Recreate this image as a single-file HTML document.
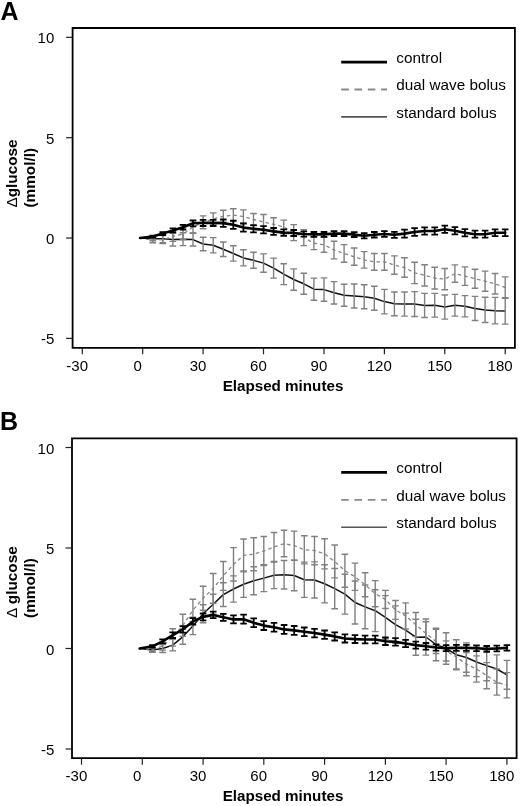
<!DOCTYPE html>
<html><head><meta charset="utf-8"><style>
html,body{margin:0;padding:0;background:#fff;}
svg{display:block;font-family:"Liberation Sans",sans-serif;will-change:transform;}
</style></head><body>
<svg width="520" height="806" viewBox="0 0 520 806">
<rect width="520" height="806" fill="#fff"/>
<text x="0.6" y="20.2" font-weight="bold" font-size="25">A</text>
<path d="M72.6,28.0H514.9V347.8H72.6Z" fill="none" stroke="#000" stroke-width="1.8"/>
<path d="M66.1,37.3H72.6" stroke="#222" stroke-width="1.2"/>
<text x="54.3" y="43.3" text-anchor="end" font-size="15">10</text>
<path d="M66.1,137.7H72.6" stroke="#222" stroke-width="1.2"/>
<text x="54.3" y="143.7" text-anchor="end" font-size="15">5</text>
<path d="M66.1,238.0H72.6" stroke="#222" stroke-width="1.2"/>
<text x="54.3" y="244.0" text-anchor="end" font-size="15">0</text>
<path d="M66.1,338.4H72.6" stroke="#222" stroke-width="1.2"/>
<text x="54.3" y="344.4" text-anchor="end" font-size="15">-5</text>
<path d="M82.3,347.8V354.3" stroke="#222" stroke-width="1.2"/>
<text x="77.2" y="370.7" text-anchor="middle" font-size="15">-30</text>
<path d="M142.7,347.8V354.3" stroke="#222" stroke-width="1.2"/>
<text x="137.6" y="370.7" text-anchor="middle" font-size="15">0</text>
<path d="M203.1,347.8V354.3" stroke="#222" stroke-width="1.2"/>
<text x="198.0" y="370.7" text-anchor="middle" font-size="15">30</text>
<path d="M263.5,347.8V354.3" stroke="#222" stroke-width="1.2"/>
<text x="258.4" y="370.7" text-anchor="middle" font-size="15">60</text>
<path d="M324.0,347.8V354.3" stroke="#222" stroke-width="1.2"/>
<text x="318.9" y="370.7" text-anchor="middle" font-size="15">90</text>
<path d="M384.4,347.8V354.3" stroke="#222" stroke-width="1.2"/>
<text x="379.3" y="370.7" text-anchor="middle" font-size="15">120</text>
<path d="M444.8,347.8V354.3" stroke="#222" stroke-width="1.2"/>
<text x="439.7" y="370.7" text-anchor="middle" font-size="15">150</text>
<path d="M505.2,347.8V354.3" stroke="#222" stroke-width="1.2"/>
<text x="500.1" y="370.7" text-anchor="middle" font-size="15">180</text>
<text x="283" y="390.9" text-anchor="middle" font-weight="bold" font-size="15.2">Elapsed minutes</text>
<g transform="translate(17.0,207.6) rotate(-90) scale(1,0.93)"><text x="0" y="0" font-size="15.35"><tspan>&#916;</tspan><tspan font-weight="bold">glucose</tspan></text></g>
<g transform="translate(34.6,207.6) rotate(-90) scale(1,0.93)"><text x="0" y="0" font-size="15.35" font-weight="bold">(mmol/l)</text></g>
<path d="M341.2,62.1H387" stroke="#000" stroke-width="2.8"/>
<path d="M341.2,89.5H387" stroke="#8a8a8a" stroke-width="1.8" stroke-dasharray="7.6,5.7"/>
<path d="M341.2,116.9H387" stroke="#555" stroke-width="1.6"/>
<text x="396.3" y="62.8" font-size="15.3">control</text>
<text x="396.3" y="90.2" font-size="15.3">dual wave bolus</text>
<text x="396.3" y="117.6" font-size="15.3">standard bolus</text>
<polyline points="140.1,238.0 152.8,238.8 162.8,238.8 172.9,239.6 183.0,239.2 193.0,239.6 203.1,244.0 213.2,245.2 223.3,249.2 233.3,253.5 243.4,257.9 253.5,260.3 263.5,263.1 273.6,268.1 283.7,274.1 293.7,279.5 303.8,283.8 313.9,289.2 324.0,289.6 334.0,292.8 344.1,295.2 354.2,296.0 364.2,296.8 374.3,298.2 384.4,301.6 394.4,303.8 404.5,304.0 414.6,304.0 424.6,305.4 434.7,305.2 444.8,307.0 454.9,305.2 464.9,306.2 475.0,308.4 485.1,309.9 495.1,310.7 505.2,310.9" fill="none" stroke="#111" stroke-width="1.5" stroke-linejoin="round" stroke-linecap="round" />
<path d="M152.8,236.8V240.8M149.5,236.8h6.6M149.5,240.8h6.6M162.8,234.8V242.8M159.5,234.8h6.6M159.5,242.8h6.6M172.9,233.2V246.0M169.6,233.2h6.6M169.6,246.0h6.6M183.0,232.8V245.6M179.7,232.8h6.6M179.7,245.6h6.6M193.0,233.2V246.0M189.7,233.2h6.6M189.7,246.0h6.6M203.1,237.2V250.8M199.8,237.2h6.6M199.8,250.8h6.6M213.2,237.6V252.9M209.9,237.6h6.6M209.9,252.9h6.6M223.3,242.0V256.5M220.0,242.0h6.6M220.0,256.5h6.6M233.3,245.8V261.1M230.0,245.8h6.6M230.0,261.1h6.6M243.4,249.8V265.9M240.1,249.8h6.6M240.1,265.9h6.6M253.5,252.2V268.3M250.2,252.2h6.6M250.2,268.3h6.6M263.5,253.9V272.3M260.2,253.9h6.6M260.2,272.3h6.6M273.6,258.1V278.1M270.3,258.1h6.6M270.3,278.1h6.6M283.7,263.7V284.6M280.4,263.7h6.6M280.4,284.6h6.6M293.7,268.9V290.2M290.4,268.9h6.6M290.4,290.2h6.6M303.8,273.3V294.2M300.5,273.3h6.6M300.5,294.2h6.6M313.9,278.1V300.2M310.6,278.1h6.6M310.6,300.2h6.6M324.0,277.9V301.2M320.7,277.9h6.6M320.7,301.2h6.6M334.0,281.6V304.0M330.7,281.6h6.6M330.7,304.0h6.6M344.1,284.2V306.2M340.8,284.2h6.6M340.8,306.2h6.6M354.2,284.0V308.0M350.9,284.0h6.6M350.9,308.0h6.6M364.2,284.8V308.8M360.9,284.8h6.6M360.9,308.8h6.6M374.3,286.2V310.3M371.0,286.2h6.6M371.0,310.3h6.6M384.4,289.4V313.9M381.1,289.4h6.6M381.1,313.9h6.6M394.4,292.0V315.7M391.1,292.0h6.6M391.1,315.7h6.6M404.5,292.0V316.1M401.2,292.0h6.6M401.2,316.1h6.6M414.6,291.6V316.5M411.3,291.6h6.6M411.3,316.5h6.6M424.6,293.4V317.5M421.3,293.4h6.6M421.3,317.5h6.6M434.7,293.4V317.1M431.4,293.4h6.6M431.4,317.1h6.6M444.8,295.0V319.1M441.5,295.0h6.6M441.5,319.1h6.6M454.9,294.4V316.1M451.6,294.4h6.6M451.6,316.1h6.6M464.9,295.6V316.9M461.6,295.6h6.6M461.6,316.9h6.6M475.0,296.4V320.5M471.7,296.4h6.6M471.7,320.5h6.6M485.1,297.2V322.5M481.8,297.2h6.6M481.8,322.5h6.6M495.1,297.4V323.9M491.8,297.4h6.6M491.8,323.9h6.6M505.2,297.6V324.1M501.9,297.6h6.6M501.9,324.1h6.6" fill="none" stroke="#808080" stroke-width="1.4"/>
<polyline points="140.1,238.0 152.8,240.4 162.8,239.6 172.9,236.4 183.0,234.0 193.0,227.0 203.1,222.3 213.2,218.9 223.3,216.3 233.3,215.1 243.4,216.5 253.5,219.5 263.5,221.9 273.6,224.4 283.7,227.0 293.7,232.6 303.8,237.6 313.9,243.2 324.0,244.8 334.0,250.0 344.1,253.5 354.2,256.7 364.2,259.9 374.3,261.9 384.4,261.9 394.4,265.1 404.5,267.5 414.6,272.9 424.6,275.3 434.7,278.1 444.8,279.1 454.9,273.5 464.9,276.1 475.0,278.7 485.1,281.2 495.1,283.8 505.2,287.6" fill="none" stroke="#858585" stroke-width="1.3" stroke-linejoin="round" stroke-linecap="round" stroke-dasharray="2.5,4.1"/>
<path d="M152.8,238.0V242.8M149.5,238.0h6.6M149.5,242.8h6.6M162.8,235.6V243.6M159.5,235.6h6.6M159.5,243.6h6.6M172.9,231.4V241.4M169.6,231.4h6.6M169.6,241.4h6.6M183.0,228.4V239.6M179.7,228.4h6.6M179.7,239.6h6.6M193.0,220.9V233.0M189.7,220.9h6.6M189.7,233.0h6.6M203.1,215.9V228.8M199.8,215.9h6.6M199.8,228.8h6.6M213.2,212.9V225.0M209.9,212.9h6.6M209.9,225.0h6.6M223.3,210.3V222.3M220.0,210.3h6.6M220.0,222.3h6.6M233.3,208.7V221.5M230.0,208.7h6.6M230.0,221.5h6.6M243.4,209.9V223.1M240.1,209.9h6.6M240.1,223.1h6.6M253.5,213.5V225.6M250.2,213.5h6.6M250.2,225.6h6.6M263.5,214.5V229.4M260.2,214.5h6.6M260.2,229.4h6.6M273.6,217.7V231.0M270.3,217.7h6.6M270.3,231.0h6.6M283.7,220.1V233.8M280.4,220.1h6.6M280.4,233.8h6.6M293.7,224.6V240.6M290.4,224.6h6.6M290.4,240.6h6.6M303.8,229.6V245.6M300.5,229.6h6.6M300.5,245.6h6.6M313.9,236.8V249.6M310.6,236.8h6.6M310.6,249.6h6.6M324.0,237.4V252.2M320.7,237.4h6.6M320.7,252.2h6.6M334.0,241.2V258.9M330.7,241.2h6.6M330.7,258.9h6.6M344.1,244.6V262.3M340.8,244.6h6.6M340.8,262.3h6.6M354.2,248.0V265.3M350.9,248.0h6.6M350.9,265.3h6.6M364.2,251.6V268.1M360.9,251.6h6.6M360.9,268.1h6.6M374.3,253.5V270.3M371.0,253.5h6.6M371.0,270.3h6.6M384.4,253.5V270.3M381.1,253.5h6.6M381.1,270.3h6.6M394.4,255.9V274.3M391.1,255.9h6.6M391.1,274.3h6.6M404.5,257.7V277.3M401.2,257.7h6.6M401.2,277.3h6.6M414.6,262.3V283.6M411.3,262.3h6.6M411.3,283.6h6.6M424.6,264.7V286.0M421.3,264.7h6.6M421.3,286.0h6.6M434.7,267.3V289.0M431.4,267.3h6.6M431.4,289.0h6.6M444.8,268.5V289.8M441.5,268.5h6.6M441.5,289.8h6.6M454.9,264.9V282.2M451.6,264.9h6.6M451.6,282.2h6.6M464.9,266.9V285.4M461.6,266.9h6.6M461.6,285.4h6.6M475.0,269.3V288.2M471.7,269.3h6.6M471.7,288.2h6.6M485.1,271.1V291.2M481.8,271.1h6.6M481.8,291.2h6.6M495.1,273.5V294.0M491.8,273.5h6.6M491.8,294.0h6.6M505.2,276.9V298.2M501.9,276.9h6.6M501.9,298.2h6.6" fill="none" stroke="#808080" stroke-width="1.4"/>
<polyline points="140.1,238.0 152.8,236.6 162.8,233.6 172.9,230.4 183.0,227.2 193.0,223.3 203.1,222.9 213.2,222.9 223.3,223.1 233.3,224.8 243.4,227.6 253.5,228.8 263.5,229.8 273.6,231.4 283.7,232.6 293.7,233.0 303.8,234.0 313.9,234.4 324.0,234.4 334.0,233.6 344.1,233.6 354.2,234.6 364.2,235.8 374.3,234.8 384.4,234.0 394.4,234.8 404.5,233.6 414.6,232.0 424.6,231.0 434.7,231.0 444.8,229.2 454.9,230.8 464.9,232.8 475.0,234.2 485.1,234.2 495.1,232.8 505.2,232.8" fill="none" stroke="#000" stroke-width="2.6" stroke-linejoin="round" stroke-linecap="round" />
<path d="M152.8,235.6V237.6M149.5,235.6h6.6M149.5,237.6h6.6M162.8,232.2V235.0M159.5,232.2h6.6M159.5,235.0h6.6M172.9,228.4V232.4M169.6,228.4h6.6M169.6,232.4h6.6M183.0,224.8V229.6M179.7,224.8h6.6M179.7,229.6h6.6M193.0,220.3V226.4M189.7,220.3h6.6M189.7,226.4h6.6M203.1,219.9V226.0M199.8,219.9h6.6M199.8,226.0h6.6M213.2,219.9V226.0M209.9,219.9h6.6M209.9,226.0h6.6M223.3,219.5V226.8M220.0,219.5h6.6M220.0,226.8h6.6M233.3,220.7V228.8M230.0,220.7h6.6M230.0,228.8h6.6M243.4,223.5V231.6M240.1,223.5h6.6M240.1,231.6h6.6M253.5,225.2V232.4M250.2,225.2h6.6M250.2,232.4h6.6M263.5,226.2V233.4M260.2,226.2h6.6M260.2,233.4h6.6M273.6,228.0V234.8M270.3,228.0h6.6M270.3,234.8h6.6M283.7,229.4V235.8M280.4,229.4h6.6M280.4,235.8h6.6M293.7,230.0V236.0M290.4,230.0h6.6M290.4,236.0h6.6M303.8,231.4V236.6M300.5,231.4h6.6M300.5,236.6h6.6M313.9,232.0V236.8M310.6,232.0h6.6M310.6,236.8h6.6M324.0,232.0V236.8M320.7,232.0h6.6M320.7,236.8h6.6M334.0,231.2V236.0M330.7,231.2h6.6M330.7,236.0h6.6M344.1,231.2V236.0M340.8,231.2h6.6M340.8,236.0h6.6M354.2,232.2V237.0M350.9,232.2h6.6M350.9,237.0h6.6M364.2,233.2V238.4M360.9,233.2h6.6M360.9,238.4h6.6M374.3,232.0V237.5M371.0,232.0h6.6M371.0,237.5h6.6M384.4,231.1V236.9M381.1,231.1h6.6M381.1,236.9h6.6M394.4,231.8V237.8M391.1,231.8h6.6M391.1,237.8h6.6M404.5,229.6V237.6M401.2,229.6h6.6M401.2,237.6h6.6M414.6,228.2V235.8M411.3,228.2h6.6M411.3,235.8h6.6M424.6,227.4V234.6M421.3,227.4h6.6M421.3,234.6h6.6M434.7,227.4V234.6M431.4,227.4h6.6M431.4,234.6h6.6M444.8,225.6V232.8M441.5,225.6h6.6M441.5,232.8h6.6M454.9,227.2V234.4M451.6,227.2h6.6M451.6,234.4h6.6M464.9,229.2V236.4M461.6,229.2h6.6M461.6,236.4h6.6M475.0,230.7V237.7M471.7,230.7h6.6M471.7,237.7h6.6M485.1,230.7V237.7M481.8,230.7h6.6M481.8,237.7h6.6M495.1,229.3V236.2M491.8,229.3h6.6M491.8,236.2h6.6M505.2,229.4V236.2M501.9,229.4h6.6M501.9,236.2h6.6" fill="none" stroke="#000" stroke-width="1.8"/>
<text x="0.0" y="430.4" font-weight="bold" font-size="25">B</text>
<path d="M72.0,438.3H516.6V758.2H72.0Z" fill="none" stroke="#000" stroke-width="1.8"/>
<path d="M65.5,447.5H72.0" stroke="#222" stroke-width="1.2"/>
<text x="54.3" y="453.5" text-anchor="end" font-size="15">10</text>
<path d="M65.5,548.0H72.0" stroke="#222" stroke-width="1.2"/>
<text x="54.3" y="554.0" text-anchor="end" font-size="15">5</text>
<path d="M65.5,648.5H72.0" stroke="#222" stroke-width="1.2"/>
<text x="54.3" y="654.5" text-anchor="end" font-size="15">0</text>
<path d="M65.5,749.0H72.0" stroke="#222" stroke-width="1.2"/>
<text x="54.3" y="755.0" text-anchor="end" font-size="15">-5</text>
<path d="M81.5,758.2V764.7" stroke="#222" stroke-width="1.2"/>
<text x="76.4" y="781.1" text-anchor="middle" font-size="15">-30</text>
<path d="M142.3,758.2V764.7" stroke="#222" stroke-width="1.2"/>
<text x="137.2" y="781.1" text-anchor="middle" font-size="15">0</text>
<path d="M203.1,758.2V764.7" stroke="#222" stroke-width="1.2"/>
<text x="198.0" y="781.1" text-anchor="middle" font-size="15">30</text>
<path d="M263.8,758.2V764.7" stroke="#222" stroke-width="1.2"/>
<text x="258.7" y="781.1" text-anchor="middle" font-size="15">60</text>
<path d="M324.6,758.2V764.7" stroke="#222" stroke-width="1.2"/>
<text x="319.5" y="781.1" text-anchor="middle" font-size="15">90</text>
<path d="M385.4,758.2V764.7" stroke="#222" stroke-width="1.2"/>
<text x="380.3" y="781.1" text-anchor="middle" font-size="15">120</text>
<path d="M446.1,758.2V764.7" stroke="#222" stroke-width="1.2"/>
<text x="441.0" y="781.1" text-anchor="middle" font-size="15">150</text>
<path d="M506.9,758.2V764.7" stroke="#222" stroke-width="1.2"/>
<text x="501.8" y="781.1" text-anchor="middle" font-size="15">180</text>
<text x="283" y="801.3" text-anchor="middle" font-weight="bold" font-size="15.2">Elapsed minutes</text>
<g transform="translate(17.0,617.9) rotate(-90) scale(1,0.93)"><text x="0" y="0" font-size="15.35"><tspan>&#916; </tspan><tspan font-weight="bold">glucose</tspan></text></g>
<g transform="translate(34.6,617.9) rotate(-90) scale(1,0.93)"><text x="0" y="0" font-size="15.35" font-weight="bold">(mmol/l)</text></g>
<path d="M341.2,472.4H387" stroke="#000" stroke-width="2.8"/>
<path d="M341.2,499.8H387" stroke="#8a8a8a" stroke-width="1.8" stroke-dasharray="7.6,5.7"/>
<path d="M341.2,527.2H387" stroke="#555" stroke-width="1.6"/>
<text x="396.3" y="473.1" font-size="15.3">control</text>
<text x="396.3" y="500.5" font-size="15.3">dual wave bolus</text>
<text x="396.3" y="527.9" font-size="15.3">standard bolus</text>
<polyline points="139.7,648.5 152.4,650.1 162.6,648.5 172.7,645.1 182.8,636.8 192.9,626.0 203.1,613.7 213.2,604.3 223.3,594.6 233.5,589.0 243.6,584.2 253.7,580.8 263.8,578.1 274.0,575.3 284.1,574.7 294.2,575.5 304.3,579.8 314.5,580.0 324.6,583.8 334.7,588.6 344.9,594.2 355.0,602.5 365.1,606.9 375.2,610.7 385.4,617.3 395.5,624.6 405.6,630.2 415.8,637.2 425.9,637.0 436.0,644.5 446.1,648.5 456.3,654.7 466.4,657.5 476.5,662.0 486.7,665.6 496.8,669.0 506.9,674.8" fill="none" stroke="#111" stroke-width="1.5" stroke-linejoin="round" stroke-linecap="round" />
<path d="M152.4,647.9V652.3M149.1,647.9h6.6M149.1,652.3h6.6M162.6,644.5V652.5M159.3,644.5h6.6M159.3,652.5h6.6M172.7,639.3V650.9M169.4,639.3h6.6M169.4,650.9h6.6M182.8,629.4V644.3M179.5,629.4h6.6M179.5,644.3h6.6M192.9,617.3V634.6M189.6,617.3h6.6M189.6,634.6h6.6M203.1,604.7V622.8M199.8,604.7h6.6M199.8,622.8h6.6M213.2,594.2V614.3M209.9,594.2h6.6M209.9,614.3h6.6M223.3,582.8V606.5M220.0,582.8h6.6M220.0,606.5h6.6M233.5,575.9V602.1M230.2,575.9h6.6M230.2,602.1h6.6M243.6,570.9V597.4M240.3,570.9h6.6M240.3,597.4h6.6M253.7,566.7V594.8M250.4,566.7h6.6M250.4,594.8h6.6M263.8,564.7V591.6M260.5,564.7h6.6M260.5,591.6h6.6M274.0,562.1V588.6M270.7,562.1h6.6M270.7,588.6h6.6M284.1,560.5V589.0M280.8,560.5h6.6M280.8,589.0h6.6M294.2,560.3V590.8M290.9,560.3h6.6M290.9,590.8h6.6M304.3,562.1V597.4M301.0,562.1h6.6M301.0,597.4h6.6M314.5,561.9V598.0M311.2,561.9h6.6M311.2,598.0h6.6M324.6,564.7V602.9M321.3,564.7h6.6M321.3,602.9h6.6M334.7,568.5V608.7M331.4,568.5h6.6M331.4,608.7h6.6M344.9,574.3V614.1M341.6,574.3h6.6M341.6,614.1h6.6M355.0,581.0V624.0M351.7,581.0h6.6M351.7,624.0h6.6M365.1,585.0V628.8M361.8,585.0h6.6M361.8,628.8h6.6M375.2,589.8V631.6M371.9,589.8h6.6M371.9,631.6h6.6M385.4,595.6V639.1M382.1,595.6h6.6M382.1,639.1h6.6M395.5,605.9V643.3M392.2,605.9h6.6M392.2,643.3h6.6M405.6,613.1V647.3M402.3,613.1h6.6M402.3,647.3h6.6M415.8,619.2V655.3M412.5,619.2h6.6M412.5,655.3h6.6M425.9,619.0V655.1M422.6,619.0h6.6M422.6,655.1h6.6M436.0,628.2V660.8M432.7,628.2h6.6M432.7,660.8h6.6M446.1,632.8V664.2M442.8,632.8h6.6M442.8,664.2h6.6M456.3,639.7V669.8M453.0,639.7h6.6M453.0,669.8h6.6M466.4,642.9V672.2M463.1,642.9h6.6M463.1,672.2h6.6M476.5,647.3V676.6M473.2,647.3h6.6M473.2,676.6h6.6M486.7,650.5V680.7M483.4,650.5h6.6M483.4,680.7h6.6M496.8,654.9V683.1M493.5,654.9h6.6M493.5,683.1h6.6M506.9,660.4V689.3M503.6,660.4h6.6M503.6,689.3h6.6" fill="none" stroke="#808080" stroke-width="1.4"/>
<polyline points="139.7,648.5 152.4,649.5 162.6,646.1 172.7,637.4 182.8,625.4 192.9,610.3 203.1,598.2 213.2,588.4 223.3,575.9 233.5,564.3 243.6,555.4 253.7,554.2 263.8,551.0 274.0,547.0 284.1,543.6 294.2,545.6 304.3,549.8 314.5,550.6 324.6,553.8 334.7,561.5 344.9,570.7 355.0,576.7 365.1,584.8 375.2,593.6 385.4,599.5 395.5,609.9 405.6,615.9 415.8,624.6 425.9,633.4 436.0,641.5 446.1,650.9 456.3,656.9 466.4,664.2 476.5,669.0 486.7,675.6 496.8,682.1 506.9,685.3" fill="none" stroke="#858585" stroke-width="1.3" stroke-linejoin="round" stroke-linecap="round" stroke-dasharray="2.5,4.1"/>
<path d="M152.4,647.5V651.5M149.1,647.5h6.6M149.1,651.5h6.6M162.6,642.1V650.1M159.3,642.1h6.6M159.3,650.1h6.6M172.7,628.8V646.1M169.4,628.8h6.6M169.4,646.1h6.6M182.8,614.3V636.4M179.5,614.3h6.6M179.5,636.4h6.6M192.9,599.3V621.4M189.6,599.3h6.6M189.6,621.4h6.6M203.1,586.2V610.3M199.8,586.2h6.6M199.8,610.3h6.6M213.2,573.5V603.3M209.9,573.5h6.6M209.9,603.3h6.6M223.3,561.5V590.4M220.0,561.5h6.6M220.0,590.4h6.6M233.5,547.6V581.0M230.2,547.6h6.6M230.2,581.0h6.6M243.6,539.0V571.9M240.3,539.0h6.6M240.3,571.9h6.6M253.7,537.7V570.7M250.4,537.7h6.6M250.4,570.7h6.6M263.8,536.5V565.5M260.5,536.5h6.6M260.5,565.5h6.6M274.0,532.5V561.5M270.7,532.5h6.6M270.7,561.5h6.6M284.1,530.3V556.8M280.8,530.3h6.6M280.8,556.8h6.6M294.2,531.1V560.1M290.9,531.1h6.6M290.9,560.1h6.6M304.3,535.7V563.9M301.0,535.7h6.6M301.0,563.9h6.6M314.5,536.5V564.7M311.2,536.5h6.6M311.2,564.7h6.6M324.6,538.8V568.9M321.3,538.8h6.6M321.3,568.9h6.6M334.7,545.0V577.9M331.4,545.0h6.6M331.4,577.9h6.6M344.9,554.2V587.2M341.6,554.2h6.6M341.6,587.2h6.6M355.0,563.1V590.4M351.7,563.1h6.6M351.7,590.4h6.6M365.1,572.7V596.8M361.8,572.7h6.6M361.8,596.8h6.6M375.2,580.6V606.7M371.9,580.6h6.6M371.9,606.7h6.6M385.4,590.4V608.5M382.1,590.4h6.6M382.1,608.5h6.6M395.5,600.5V619.4M392.2,600.5h6.6M392.2,619.4h6.6M405.6,602.9V629.0M402.3,602.9h6.6M402.3,629.0h6.6M415.8,612.5V636.6M412.5,612.5h6.6M412.5,636.6h6.6M425.9,621.8V645.1M422.6,621.8h6.6M422.6,645.1h6.6M436.0,629.4V653.5M432.7,629.4h6.6M432.7,653.5h6.6M446.1,640.9V661.0M442.8,640.9h6.6M442.8,661.0h6.6M456.3,644.9V669.0M453.0,644.9h6.6M453.0,669.0h6.6M466.4,652.5V675.8M463.1,652.5h6.6M463.1,675.8h6.6M476.5,655.9V682.1M473.2,655.9h6.6M473.2,682.1h6.6M486.7,662.6V688.7M483.4,662.6h6.6M483.4,688.7h6.6M496.8,669.0V695.1M493.5,669.0h6.6M493.5,695.1h6.6M506.9,672.6V697.9M503.6,672.6h6.6M503.6,697.9h6.6" fill="none" stroke="#808080" stroke-width="1.4"/>
<polyline points="139.7,648.5 152.4,646.3 162.6,641.3 172.7,635.2 182.8,629.4 192.9,621.4 203.1,616.9 213.2,614.9 223.3,617.3 233.5,619.4 243.6,619.2 253.7,622.8 263.8,625.6 274.0,627.2 284.1,629.4 294.2,630.4 304.3,631.8 314.5,633.0 324.6,634.6 334.7,636.4 344.9,638.5 355.0,639.1 365.1,639.5 375.2,639.5 385.4,641.3 395.5,641.9 405.6,643.5 415.8,645.1 425.9,646.3 436.0,647.5 446.1,648.1 456.3,647.9 466.4,647.9 476.5,648.3 486.7,648.9 496.8,648.5 506.9,647.9" fill="none" stroke="#000" stroke-width="2.6" stroke-linejoin="round" stroke-linecap="round" />
<path d="M152.4,645.1V647.5M149.1,645.1h6.6M149.1,647.5h6.6M162.6,639.3V643.3M159.3,639.3h6.6M159.3,643.3h6.6M172.7,632.4V638.0M169.4,632.4h6.6M169.4,638.0h6.6M182.8,626.2V632.6M179.5,626.2h6.6M179.5,632.6h6.6M192.9,618.1V624.6M189.6,618.1h6.6M189.6,624.6h6.6M203.1,613.5V620.4M199.8,613.5h6.6M199.8,620.4h6.6M213.2,611.7V618.1M209.9,611.7h6.6M209.9,618.1h6.6M223.3,613.9V620.8M220.0,613.9h6.6M220.0,620.8h6.6M233.5,615.3V623.4M230.2,615.3h6.6M230.2,623.4h6.6M243.6,614.7V623.6M240.3,614.7h6.6M240.3,623.6h6.6M253.7,618.4V627.2M250.4,618.4h6.6M250.4,627.2h6.6M263.8,621.2V630.0M260.5,621.2h6.6M260.5,630.0h6.6M274.0,622.8V631.6M270.7,622.8h6.6M270.7,631.6h6.6M284.1,625.0V633.8M280.8,625.0h6.6M280.8,633.8h6.6M294.2,626.0V634.8M290.9,626.0h6.6M290.9,634.8h6.6M304.3,627.5V636.2M301.0,627.5h6.6M301.0,636.2h6.6M314.5,628.8V637.3M311.2,628.8h6.6M311.2,637.3h6.6M324.6,630.5V638.8M321.3,630.5h6.6M321.3,638.8h6.6M334.7,632.3V640.5M331.4,632.3h6.6M331.4,640.5h6.6M344.9,634.4V642.5M341.6,634.4h6.6M341.6,642.5h6.6M355.0,635.1V643.0M351.7,635.1h6.6M351.7,643.0h6.6M365.1,635.6V643.3M361.8,635.6h6.6M361.8,643.3h6.6M375.2,635.6V643.3M371.9,635.6h6.6M371.9,643.3h6.6M385.4,637.5V645.0M382.1,637.5h6.6M382.1,645.0h6.6M395.5,638.2V645.6M392.2,638.2h6.6M392.2,645.6h6.6M405.6,639.9V647.1M402.3,639.9h6.6M402.3,647.1h6.6M415.8,641.6V648.6M412.5,641.6h6.6M412.5,648.6h6.6M425.9,643.0V649.6M422.6,643.0h6.6M422.6,649.6h6.6M436.0,644.3V650.7M432.7,644.3h6.6M432.7,650.7h6.6M446.1,645.1V651.1M442.8,645.1h6.6M442.8,651.1h6.6M456.3,644.9V650.9M453.0,644.9h6.6M453.0,650.9h6.6M466.4,644.9V650.8M463.1,644.9h6.6M463.1,650.8h6.6M476.5,645.4V651.2M473.2,645.4h6.6M473.2,651.2h6.6M486.7,646.0V651.8M483.4,646.0h6.6M483.4,651.8h6.6M496.8,645.7V651.3M493.5,645.7h6.6M493.5,651.3h6.6M506.9,645.1V650.7M503.6,645.1h6.6M503.6,650.7h6.6" fill="none" stroke="#000" stroke-width="1.8"/>
</svg>
</body></html>
